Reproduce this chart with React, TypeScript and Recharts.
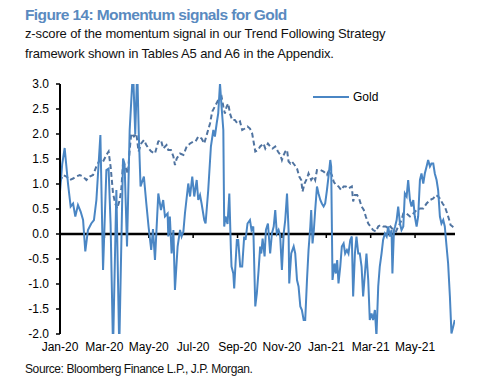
import React from 'react';
import { LineChart, Line, XAxis, YAxis, ReferenceLine, Legend } from 'recharts';

const FONT = 'Arial, "Liberation Sans", sans-serif';

// x = months since Jan-20, y = z-score
const tickMonths = [0, 2, 4, 6, 8, 10, 12, 14, 16];
const tickLabels = ['Jan-20', 'Mar-20', 'May-20', 'Jul-20', 'Sep-20', 'Nov-20', 'Jan-21', 'Mar-21', 'May-21'];
const yTicks = [-2, -1.5, -1, -0.5, 0, 0.5, 1, 1.5, 2, 2.5, 3];

// solid line: Gold momentum signal
const goldSignal: [number, number][] = [
  [0.0, 0.85], [0.1, 1.4], [0.21, 1.72], [0.36, 1.01], [0.48, 0.55], [0.59, 0.61], [0.69, 0.35], [0.81, 0.58],
  [0.93, 0.45], [1.04, 0.28], [1.14, -0.35], [1.26, 0.08], [1.41, 0.21], [1.53, 0.28], [1.64, 0.68], [1.82, 1.98],
  [1.94, -0.72], [2.09, 1.28], [2.19, 1.31], [2.28, 0.2], [2.39, -2.3], [2.54, 0.88], [2.67, -2.3], [2.84, 1.51],
  [2.91, 1.4], [3.02, -0.25], [3.14, 2.08], [3.29, 3.3], [3.39, 2.0], [3.48, 3.3], [3.55, 2.0], [3.63, 0.95],
  [3.78, 1.15], [3.89, 0.61], [3.99, 0.15], [4.11, -0.32], [4.19, 0.1], [4.28, -0.52], [4.43, 0.81], [4.55, 0.48],
  [4.65, 0.68], [4.73, 0.35], [4.85, 0.41], [4.88, -0.05], [4.95, 0.35], [5.03, -0.39], [5.11, 0.08], [5.18, -1.12],
  [5.3, -0.25], [5.41, 0.08], [5.48, -0.05], [5.56, 0.05], [5.63, 0.41], [5.78, 1.01], [5.86, 0.75], [5.96, 1.15],
  [6.05, 0.75], [6.16, 1.08], [6.23, 0.68], [6.31, 0.78], [6.38, 0.61], [6.5, 0.28], [6.56, 0.21], [6.68, 0.88],
  [6.8, 1.75], [6.91, 2.08], [6.98, 1.95], [7.06, 2.21], [7.13, 2.41], [7.21, 3.01], [7.28, 2.55], [7.36, 2.08],
  [7.4, 0.15], [7.46, 0.35], [7.55, 0.2], [7.63, 0.81], [7.7, -0.3], [7.73, -0.65], [7.81, -0.79], [7.85, -1.09],
  [7.91, -0.59], [7.97, -0.12], [8.03, -0.12], [8.12, -0.65], [8.21, -0.65], [8.3, -0.05], [8.36, -0.12], [8.45, 0.21],
  [8.56, 0.28], [8.63, 0.08], [8.71, 0.15], [8.8, -1.45], [8.87, -1.19], [8.95, -0.72], [9.02, -0.25], [9.07, -0.39],
  [9.13, -0.09], [9.22, -0.45], [9.28, 0.08], [9.37, 0.21], [9.47, -0.39], [9.55, 0.01], [9.63, 0.15], [9.7, 0.48],
  [9.77, 0.01], [9.85, 0.08], [9.92, -0.02], [10.0, -0.72], [10.08, 0.01], [10.15, 0.28], [10.23, 0.81], [10.3, 0.08],
  [10.33, -0.99], [10.42, -0.39], [10.53, -0.25], [10.6, -0.39], [10.68, -0.92], [10.75, -1.05], [10.83, -1.45], [10.9, -1.52],
  [10.98, -1.72], [11.05, -1.72], [11.13, -0.92], [11.2, -0.32], [11.28, 0.15], [11.32, 0.48], [11.38, -0.19], [11.44, 0.08],
  [11.5, 0.48], [11.58, 0.95], [11.65, 0.81], [11.73, 0.68], [11.8, 0.61], [11.88, 0.55], [11.95, 0.61], [12.03, 0.88],
  [12.1, 1.15], [12.18, 1.48], [12.22, 1.35], [12.28, -0.92], [12.37, -0.59], [12.43, -0.79], [12.49, -0.52], [12.55, -0.99],
  [12.63, -0.65], [12.7, -0.25], [12.78, -0.19], [12.85, -0.39], [12.93, -0.32], [13.0, -0.39], [13.08, -0.12], [13.15, -0.05],
  [13.21, -1.25], [13.29, -0.39], [13.36, -0.05], [13.44, -0.39], [13.51, -0.39], [13.59, -0.65], [13.66, -1.25], [13.74, -0.79],
  [13.81, -0.39], [13.89, -0.92], [13.96, -1.72], [14.04, -1.59], [14.11, -1.72], [14.19, -1.52], [14.26, -2.05], [14.34, -1.05],
  [14.41, -0.65], [14.49, -0.39], [14.56, -0.12], [14.64, 0.01], [14.72, -0.05], [14.79, 0.15], [14.86, -0.05], [14.94, 0.08],
  [14.98, -0.79], [15.05, 0.08], [15.1, 0.15], [15.17, 0.28], [15.24, 0.55], [15.32, 0.21], [15.39, 0.08], [15.47, 0.15],
  [15.54, 0.81], [15.62, 0.75], [15.69, 1.08], [15.77, 0.68], [15.84, 0.55], [15.92, 0.68], [15.99, 0.35], [16.07, 0.15],
  [16.14, 0.35], [16.22, 1.08], [16.29, 1.21], [16.37, 1.01], [16.44, 1.21], [16.52, 1.35], [16.59, 1.48], [16.67, 1.35],
  [16.74, 1.41], [16.82, 1.41], [16.89, 1.21], [16.97, 1.08], [17.04, 0.88], [17.12, 0.35], [17.19, 0.21], [17.27, 0.28],
  [17.34, 0.15], [17.42, -0.25], [17.49, -0.59], [17.57, -1.25], [17.64, -1.99], [17.72, -1.85], [17.79, -1.72],
];

// dashed line: slower signal (not in legend)
const slowSignal: [number, number][] = [
  [0.0, 1.05], [0.14, 1.18], [0.29, 1.15], [0.44, 1.08], [0.59, 1.11], [0.74, 1.15], [0.89, 1.18], [1.04, 1.15],
  [1.19, 1.08], [1.34, 1.15], [1.49, 1.18], [1.64, 1.35], [1.79, 1.48], [1.94, 1.45], [2.09, 1.58], [2.19, 1.65],
  [2.28, 1.35], [2.39, 0.81], [2.49, 0.61], [2.58, 0.51], [2.69, 0.68], [2.76, 0.88], [2.84, 1.41], [2.91, 1.38],
  [3.06, 1.21], [3.14, 1.68], [3.21, 2.01], [3.33, 1.95], [3.44, 2.01], [3.54, 1.65], [3.66, 1.81], [3.78, 1.88],
  [3.89, 1.78], [3.99, 1.71], [4.11, 1.65], [4.28, 1.61], [4.43, 1.85], [4.55, 1.88], [4.65, 1.71], [4.8, 1.78],
  [4.88, 1.68], [5.0, 1.68], [5.11, 1.55], [5.18, 1.38], [5.26, 1.51], [5.41, 1.61], [5.56, 1.58], [5.71, 1.75],
  [5.86, 1.81], [6.01, 1.85], [6.11, 1.85], [6.23, 1.95], [6.38, 1.91], [6.5, 1.81], [6.61, 1.98], [6.76, 2.21],
  [6.86, 2.45], [6.98, 2.55], [7.13, 2.68], [7.28, 2.75], [7.36, 2.55], [7.43, 2.41], [7.51, 2.55], [7.58, 2.61],
  [7.66, 2.41], [7.76, 2.28], [7.88, 2.28], [8.0, 2.21], [8.11, 2.25], [8.21, 2.08], [8.33, 2.11], [8.45, 2.15],
  [8.56, 2.11], [8.66, 2.01], [8.8, 1.65], [8.92, 1.68], [9.02, 1.75], [9.17, 1.81], [9.25, 1.71], [9.37, 1.81],
  [9.47, 1.75], [9.58, 1.71], [9.7, 1.75], [9.82, 1.65], [9.93, 1.58], [10.0, 1.48], [10.08, 1.58], [10.15, 1.65],
  [10.23, 1.68], [10.3, 1.45], [10.38, 1.41], [10.45, 1.45], [10.57, 1.38], [10.68, 1.31], [10.78, 1.15], [10.87, 1.08],
  [10.93, 0.85], [11.02, 1.01], [11.13, 1.11], [11.2, 1.21], [11.32, 1.08], [11.43, 1.15], [11.5, 1.08], [11.58, 1.28],
  [11.73, 1.28], [11.88, 1.25], [12.03, 1.18], [12.13, 1.28], [12.25, 1.18], [12.33, 1.05], [12.43, 0.98], [12.55, 0.95],
  [12.67, 0.88], [12.78, 0.95], [12.88, 0.95], [13.0, 0.91], [13.15, 0.95], [13.21, 0.65], [13.29, 0.78], [13.39, 0.78],
  [13.48, 0.71], [13.59, 0.55], [13.69, 0.48], [13.78, 0.35], [13.89, 0.21], [13.99, 0.15], [14.11, 0.08], [14.23, 0.05],
  [14.34, 0.15], [14.44, 0.18], [14.56, 0.15], [14.68, 0.15], [14.79, 0.11], [14.89, 0.15], [15.02, 0.08], [15.14, 0.05],
  [15.24, 0.15], [15.32, 0.21], [15.39, 0.28], [15.47, 0.41], [15.62, 0.41], [15.77, 0.35], [15.92, 0.41], [16.07, 0.48],
  [16.22, 0.51], [16.37, 0.51], [16.52, 0.61], [16.67, 0.68], [16.82, 0.71], [16.94, 0.78], [17.04, 0.75], [17.12, 0.71],
  [17.24, 0.61], [17.34, 0.55], [17.45, 0.41], [17.54, 0.28], [17.6, 0.18], [17.69, 0.15], [17.79, 0.11],
];

const toRows = (pts: [number, number][]) => pts.map(([m, z]) => ({ m, z }));

const GoldLegend = () => (
  <div style={{ display: 'flex', alignItems: 'center', fontFamily: FONT, fontSize: 12, color: '#000' }}>
    <svg width={36} height={6} style={{ marginRight: 4 }}>
      <line x1={0} y1={3} x2={36} y2={3} stroke="#4a86c4" strokeWidth={2} />
    </svg>
    Gold
  </div>
);

export default function App() {
  return (
    <div style={{ position: 'absolute', left: 0, top: 0, width: 500, height: 385, background: '#fff', fontFamily: FONT }}>
      <div
        style={{
          position: 'absolute', left: 25, top: 5, lineHeight: '20px', fontSize: 15.5,
          fontWeight: 'bold', color: '#5a8abf', letterSpacing: -0.6, whiteSpace: 'nowrap',
        }}
      >
        Figure 14: Momentum signals for Gold
      </div>
      <div
        style={{
          position: 'absolute', left: 25, top: 24, lineHeight: '20px', fontSize: 13,
          color: '#111', letterSpacing: -0.13, whiteSpace: 'nowrap',
        }}
      >
        z-score of the momentum signal in our Trend Following Strategy
        <br />
        framework shown in Tables A5 and A6 in the Appendix.
      </div>
      <div style={{ position: 'absolute', left: 0, top: 70 }}>
        <LineChart width={500} height={290} margin={{ top: 14, right: 45, bottom: 6, left: 0 }}>
          <XAxis
            type="number"
            dataKey="m"
            domain={[0, 17.8]}
            allowDataOverflow
            ticks={tickMonths}
            interval={0}
            tickFormatter={(v: number) => tickLabels[tickMonths.indexOf(v)] ?? ''}
            axisLine={false}
            tickLine={false}
            height={20}
            tick={{ fontSize: 12, fill: '#000', fontFamily: FONT }}
          />
          <YAxis
            type="number"
            domain={[-2, 3]}
            allowDataOverflow
            ticks={yTicks}
            interval={0}
            tickFormatter={(v: number) => v.toFixed(1)}
            width={60}
            axisLine={{ stroke: '#000', strokeWidth: 2 }}
            tickLine={{ stroke: '#000', strokeWidth: 1.5 }}
            tickSize={4}
            tickMargin={7}
            tick={{ fontSize: 12, fill: '#000', fontFamily: FONT }}
          />
          <ReferenceLine y={0} stroke="#000" strokeWidth={2.5} />
          {tickMonths.slice(1).map((m) => (
            <ReferenceLine
              key={m}
              segment={[{ x: m, y: 0 }, { x: m, y: -0.08 }]}
              stroke="#000"
              strokeWidth={1.5}
            />
          ))}
          <Line
            data={toRows(slowSignal)}
            dataKey="z"
            type="linear"
            stroke="#4f73a0"
            strokeWidth={2}
            strokeDasharray="5 3"
            dot={false}
            legendType="none"
            isAnimationActive={false}
          />
          <Line
            data={toRows(goldSignal)}
            dataKey="z"
            name="Gold"
            type="linear"
            stroke="#4a86c4"
            strokeWidth={2}
            dot={false}
            isAnimationActive={false}
          />
          <Legend
            layout="horizontal"
            verticalAlign="middle"
            align="center"
            content={() => <GoldLegend />}
            wrapperStyle={{ left: 313, top: 20, width: 'auto' }}
          />
        </LineChart>
      </div>
      <div
        style={{
          position: 'absolute', left: 25, top: 359, lineHeight: '20px', fontSize: 12,
          color: '#111', letterSpacing: -0.4, whiteSpace: 'nowrap',
        }}
      >
        Source: Bloomberg Finance L.P., J.P. Morgan.
      </div>
    </div>
  );
}
